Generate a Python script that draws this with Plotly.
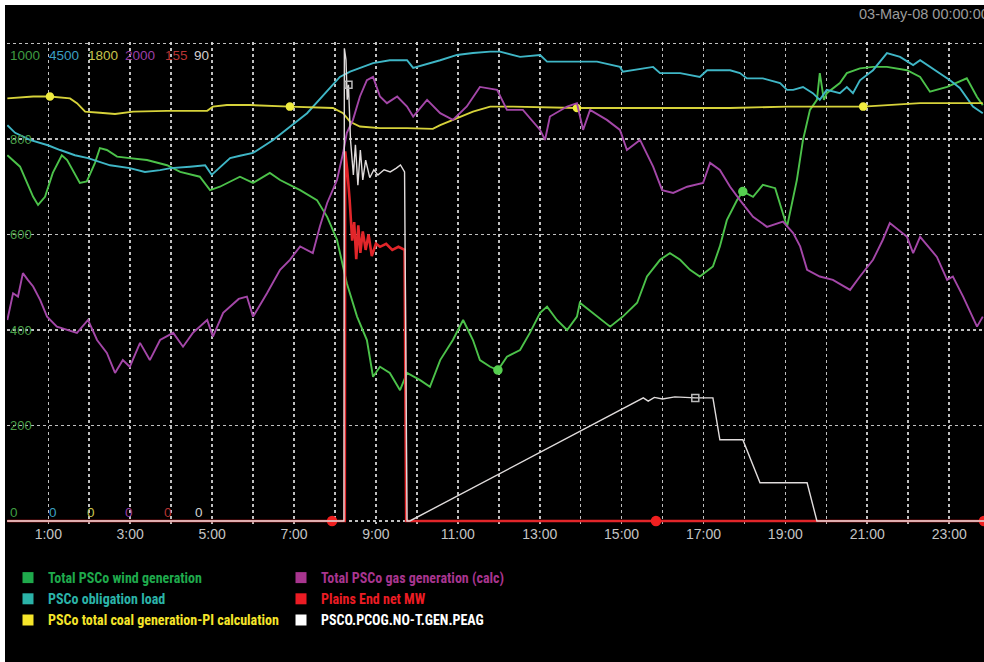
import plotly.graph_objects as go

# ---------------- data (time in hours since midnight, native units) ----------------
hour_ticks = list(range(1, 24))
hour_labels = [f"{h}:00" if h % 2 else "" for h in hour_ticks]
wind_grid_vals = [0, 200, 400, 600, 800, 1000]
wind_grid_text = ["", "200", "400", "600", "800", ""]
date_label = "03-May-08 00:00:00"

# full-scale value of each trend (shown at the top left of the trend)
scale_max = [1000, 4500, 1800, 2000, 155, 90]

wind_t = [0.00, 0.31, 0.63, 0.75, 0.92, 1.11, 1.33, 1.46, 1.77, 1.94, 2.14, 2.26, 2.43, 2.68, 2.99,
          3.41, 3.90, 4.22, 4.70, 4.95, 5.19, 5.51, 5.68, 6.00, 6.41, 6.66, 7.15, 7.56, 7.81, 8.05,
          8.29, 8.54, 8.78, 8.93, 9.10, 9.34, 9.59, 9.76, 10.08, 10.32, 10.57, 10.88, 11.13, 11.37,
          11.54, 11.79, 11.98, 12.20, 12.52, 12.76, 13.01, 13.18, 13.42, 13.67, 13.91, 13.98, 14.30,
          14.72, 15.03, 15.38, 15.62, 15.94, 16.18, 16.43, 16.67, 16.91, 17.23, 17.40, 17.57, 17.82,
          17.96, 18.21, 18.45, 18.75, 19.04, 19.28, 19.43, 19.60, 19.77, 19.84, 19.94, 20.01, 20.33,
          20.50, 20.82, 21.14, 21.48, 21.97, 22.29, 22.53, 22.95, 23.43, 23.68, 23.82]
wind_mw = [766, 742, 679, 662, 679, 729, 766, 756, 708, 711, 750, 781, 777, 763, 760,
           756, 745, 731, 721, 693, 700, 714, 721, 708, 729, 714, 693, 672, 637, 589,
           498, 428, 379, 302, 323, 310, 274, 310, 295, 281, 337, 379, 421, 379,
           337, 323, 316, 344, 358, 394, 436, 449, 421, 400, 428, 457, 436,
           407, 428, 457, 512, 547, 561, 547, 526, 512, 533, 575, 630, 672,
           690, 679, 704, 697, 616, 714, 798, 861, 882, 938, 882, 896, 917,
           938, 948, 951, 951, 944, 930, 899, 909, 927, 888, 871]

load_t = [0.00, 0.19, 0.55, 0.99, 1.29, 1.65, 1.97, 2.26, 2.51, 2.99, 3.36, 3.73, 3.99, 4.46, 4.83,
          4.99, 5.44, 5.68, 6.00, 6.49, 6.90, 7.32, 8.12, 8.37, 8.93, 9.34, 9.76, 9.91, 10.57, 10.98,
          11.37, 11.79, 12.03, 12.52, 13.01, 13.18, 13.98, 14.40, 14.96, 15.03, 15.77, 15.94, 16.43,
          16.91, 17.09, 17.65, 17.89, 18.06, 18.45, 18.87, 19.04, 19.19, 19.43, 19.67, 19.84, 20.01,
          20.33, 20.50, 20.65, 20.82, 21.14, 21.48, 21.80, 22.12, 22.29, 22.46, 22.77, 23.02, 23.26,
          23.58, 23.82]
load_mw = [3730, 3658, 3591, 3541, 3496, 3447, 3420, 3384, 3352, 3325, 3289, 3307, 3325, 3339, 3352,
           3262, 3420, 3442, 3469, 3591, 3717, 3843, 4185, 4234, 4315, 4342, 4342, 4270, 4342, 4392,
           4410, 4423, 4423, 4374, 4392, 4329, 4329, 4329, 4279, 4234, 4279, 4221, 4221,
           4185, 4248, 4248, 4221, 4171, 4171, 4126, 4063, 4063, 4090, 4032, 3969, 4063,
           4032, 4090, 4032, 4153, 4248, 4410, 4374, 4297, 4342, 4297, 4221, 4153, 4081,
           3906, 3843]

coal_t = [0.00, 0.63, 1.04, 1.53, 1.70, 1.90, 2.26, 2.63, 3.07, 3.90, 4.88, 5.02, 5.36, 5.93, 6.90,
          7.95, 8.20, 8.37, 8.61, 9.10, 9.76, 10.39, 10.57, 10.88, 11.37, 11.79, 12.35, 13.91, 15.62,
          17.65, 19.04, 20.90, 22.29, 23.82]
coal_mw = [1593, 1600, 1600, 1593, 1575, 1543, 1539, 1534, 1543, 1546, 1546, 1562, 1568, 1568, 1562,
           1557, 1537, 1505, 1487, 1481, 1481, 1478, 1492, 1512, 1543, 1562, 1562, 1557, 1557,
           1557, 1562, 1562, 1575, 1575]

gas_t = [0.00, 0.14, 0.26, 0.38, 0.50, 0.63, 0.80, 0.97, 1.21, 1.46, 1.70, 1.97, 2.19, 2.43, 2.63,
         2.82, 2.99, 3.24, 3.48, 3.73, 4.05, 4.29, 4.53, 4.88, 5.02, 5.27, 5.65, 5.85, 6.00, 6.34,
         6.66, 6.90, 7.15, 7.46, 7.63, 7.81, 8.05, 8.20, 8.29, 8.44, 8.61, 8.78, 8.93, 9.10, 9.27,
         9.52, 9.76, 9.91, 10.25, 10.57, 10.88, 11.22, 11.54, 11.96, 12.20, 12.59, 13.01, 13.13,
         13.25, 13.67, 13.91, 14.06, 14.23, 14.64, 14.96, 15.13, 15.45, 15.77, 15.99, 16.26, 16.60,
         16.99, 17.16, 17.40, 17.65, 17.89, 18.21, 18.55, 18.94, 19.19, 19.36, 19.53, 19.84, 20.16,
         20.58, 20.82, 21.14, 21.38, 21.55, 21.97, 22.12, 22.29, 22.70, 22.95, 23.09, 23.34, 23.68,
         23.82]
gas_mw = [842, 954, 940, 1038, 1010, 982, 926, 856, 814, 800, 788, 842, 758, 704, 620,
          674, 646, 746, 674, 758, 788, 730, 788, 842, 772, 872, 930, 940, 856, 954,
          1052, 1094, 1150, 1122, 1232, 1332, 1428, 1542, 1626, 1680, 1778, 1846, 1860, 1778, 1750,
          1778, 1736, 1694, 1764, 1708, 1680, 1736, 1818, 1806, 1722, 1722, 1638, 1596,
          1694, 1736, 1750, 1638, 1722, 1680, 1638, 1554, 1596, 1484, 1386, 1374, 1400,
          1416, 1500, 1470, 1400, 1344, 1274, 1232, 1254, 1206, 1150, 1052, 1024, 1010,
          968, 1024, 1094, 1178, 1248, 1190, 1122, 1190, 1106, 1010, 1024, 940, 814,
          856]

plains_t = [0.00, 7.93, 8.24, 8.25, 8.30, 8.36, 8.42, 8.47, 8.52, 8.57, 8.62, 8.68, 8.75, 8.82,
            8.90, 9.00, 9.10, 9.25, 9.40, 9.55, 9.70, 9.74, 15.84, 23.85]
plains_mw = [0, 0, 0, 120, 114, 104, 91, 97, 85, 96, 87, 94, 88, 93,
             86, 90, 89, 90, 88, 89, 88, 0, 0, 0]

peag_t = [0.00, 8.22, 8.23, 8.27, 8.30, 8.33, 8.38, 8.45, 8.50, 8.56, 8.62, 8.68, 8.75, 8.85,
          8.95, 9.05, 9.20, 9.35, 9.50, 9.60, 9.70, 9.76, 9.83, 15.53, 15.65, 15.80, 16.00, 16.30,
          16.80, 17.23, 17.40, 17.96, 18.38, 19.53, 19.77, 23.85]
peag_mw = [0, 0, 89.1, 86.9, 79.4, 82.2, 71.8, 65.2, 70.9, 63.3, 69.9, 64.3, 68.0, 64.7,
           66.2, 65.2, 66.2, 65.8, 66.5, 67.1, 65.8, 0, 0, 23.2, 22.6, 23.3, 23.0, 23.4,
           23.2, 23.2, 15.3, 15.3, 7.2, 7.2, 0, 0]

# times at which the trend display puts its value markers
coal_mark_t = [1.04, 6.90, 13.91, 20.90]
wind_mark_t = [11.98, 17.96]
plains_mark_t = [7.93, 15.84, 23.85]
peag_mark_t = [8.33, 16.80]

names = ["Total PSCo wind generation", "PSCo obligation load",
         "PSCo total coal generation-PI calculation", "Total PSCo gas generation (calc)",
         "Plains End net MW", "PSCO.PCOG.NO-T.GEN.PEAG"]

# ---------------- styling ----------------
W, H = 984, 662
ML, MR, MT, MB = 7, 0, 42, 138
PW, PH = W - ML - MR, H - MT - MB
FONT = "Liberation Sans, Arial, DejaVu Sans, sans-serif"
FONT_N = "Roboto Condensed, DejaVu Sans Condensed, sans-serif"

line_cols = ["#4cc24a", "#3fb6c6", "#d6d23a", "#a447a8", "#e2262a", "#e0dcdc"]
line_w = [1.9, 1.9, 1.9, 1.9, 2.6, 1.4]
key_cols = ["#1faa4c", "#2bb3a8", "#f5e52a", "#a8358f", "#ec1c24", "#ffffff"]
label_cols = ["#3f9c42", "#3a9fc0", "#c8c44c", "#9a3fa6", "#b83434", "#d0d0d0"]
axes = ["y", "y2", "y3", "y4", "y5", "y6"]
series = [(wind_t, wind_mw), (load_t, load_mw), (coal_t, coal_mw),
          (gas_t, gas_mw), (plains_t, plains_mw), (peag_t, peag_mw)]


def px_x(px):
    return (px - ML) / PW


def px_y(py):
    return (H - MB - py) / PH


def nearest(ts, vs, marks):
    xs, ys = [], []
    for m in marks:
        i = min(range(len(ts)), key=lambda k: abs(ts[k] - m))
        xs.append(ts[i])
        ys.append(vs[i])
    return xs, ys


fig = go.Figure()

for i in range(6):
    t, v = series[i]
    fig.add_trace(go.Scatter(x=t, y=v, yaxis=axes[i], mode="lines", name=names[i],
                             line=dict(color=line_cols[i], width=line_w[i]),
                             showlegend=False, hoverinfo="skip"))

# value markers along the trends
for idx, marks, sym, size, col in [(2, coal_mark_t, "circle", 7, "#f0ec40"),
                                   (0, wind_mark_t, "circle", 8, "#56d050"),
                                   (4, plains_mark_t, "circle", 9, "#f02020"),
                                   (5, peag_mark_t, "square-open", 7, "#bbbbbb")]:
    t, v = series[idx]
    mx, my = nearest(t, v, marks)
    fig.add_trace(go.Scatter(x=mx, y=my, yaxis=axes[idx], mode="markers", showlegend=False,
                             cliponaxis=False, hoverinfo="skip",
                             marker=dict(symbol=sym, size=size, color=col,
                                         line=dict(color=col, width=1.5))))

# legend keys (two columns)
for i in range(6):
    fig.add_trace(go.Scatter(x=[None], y=[None], mode="markers",
                             name=f"<span style='color:{key_cols[i]}'><b>{names[i]}</b></span>",
                             marker=dict(symbol="square", size=11, color=key_cols[i]),
                             legend="legend" if i < 3 else "legend2"))

grid = dict(showgrid=True, gridcolor="rgba(225,225,225,0.85)", gridwidth=1.6, griddash="3px,3px")

layout_axes = {}
for i, ax in enumerate(axes):
    M = scale_max[i]
    rng = [-0.0063 * M, 1.0031 * M]
    key = "yaxis" if ax == "y" else "yaxis" + ax[1:]
    if ax == "y":
        layout_axes[key] = dict(range=rng, tickvals=wind_grid_vals, ticktext=wind_grid_text,
                                ticklabelposition="inside", ticks="", zeroline=False,
                                showline=False, fixedrange=True,
                                tickfont=dict(family=FONT, size=13, color="#4a9e48"), **grid)
    else:
        layout_axes[key] = dict(range=rng, overlaying="y", visible=False, fixedrange=True)

annotations = [dict(text=date_label, xref="paper", yref="paper", x=px_x(857), y=px_y(14),
                    xanchor="left", yanchor="middle", showarrow=False,
                    font=dict(family=FONT, size=14.5, color="#9c9c9c"))]
top_x = [8, 47, 86, 123, 163, 192]
zero_x = [8, 47, 85, 123, 162, 193]
for i in range(6):
    annotations.append(dict(text=str(scale_max[i]), xref="paper", yref="paper",
                            x=px_x(top_x[i]), y=px_y(55), xanchor="left", yanchor="middle",
                            showarrow=False, font=dict(family=FONT, size=13.5, color=label_cols[i])))
    annotations.append(dict(text="0", xref="paper", yref="paper",
                            x=px_x(zero_x[i]), y=px_y(512), xanchor="left", yanchor="middle",
                            showarrow=False, font=dict(family=FONT, size=13.5, color=label_cols[i])))

legend_common = dict(xref="container", yref="container", xanchor="left", yanchor="top",
                     bgcolor="rgba(0,0,0,0)", borderwidth=0, tracegroupgap=0,
                     font=dict(family=FONT_N, size=14, color="#ffffff"))

fig.update_layout(
    width=W, height=H, autosize=False,
    margin=dict(l=ML, r=MR, t=MT, b=MB, pad=0, autoexpand=False),
    paper_bgcolor="#ffffff", plot_bgcolor="#000000",
    xaxis=dict(range=[-0.0085, 23.85], tickvals=hour_ticks, ticktext=hour_labels, ticks="",
               zeroline=False, showline=False, fixedrange=True, automargin=False, tickangle=0,
               tickfont=dict(family=FONT, size=14, color="#c4c4c4"), **grid),
    **layout_axes,
    annotations=annotations,
    shapes=[dict(type="rect", xref="paper", yref="paper", layer="below",
                 x0=px_x(5), x1=px_x(W + 10), y0=px_y(H + 10), y1=px_y(5),
                 fillcolor="#000000", line=dict(width=0))],
    legend=dict(x=8 / W, y=1 - 562 / H, **legend_common),
    legend2=dict(x=281 / W, y=1 - 562 / H, **legend_common),
    showlegend=True,
)

fig.write_html("out.html", config={"displayModeBar": False, "staticPlot": True},
               post_script="document.documentElement.style.margin='0';"
                           "document.body.style.margin='0';"
                           "document.documentElement.style.overflow='hidden';"
                           "document.body.style.overflow='hidden';")
